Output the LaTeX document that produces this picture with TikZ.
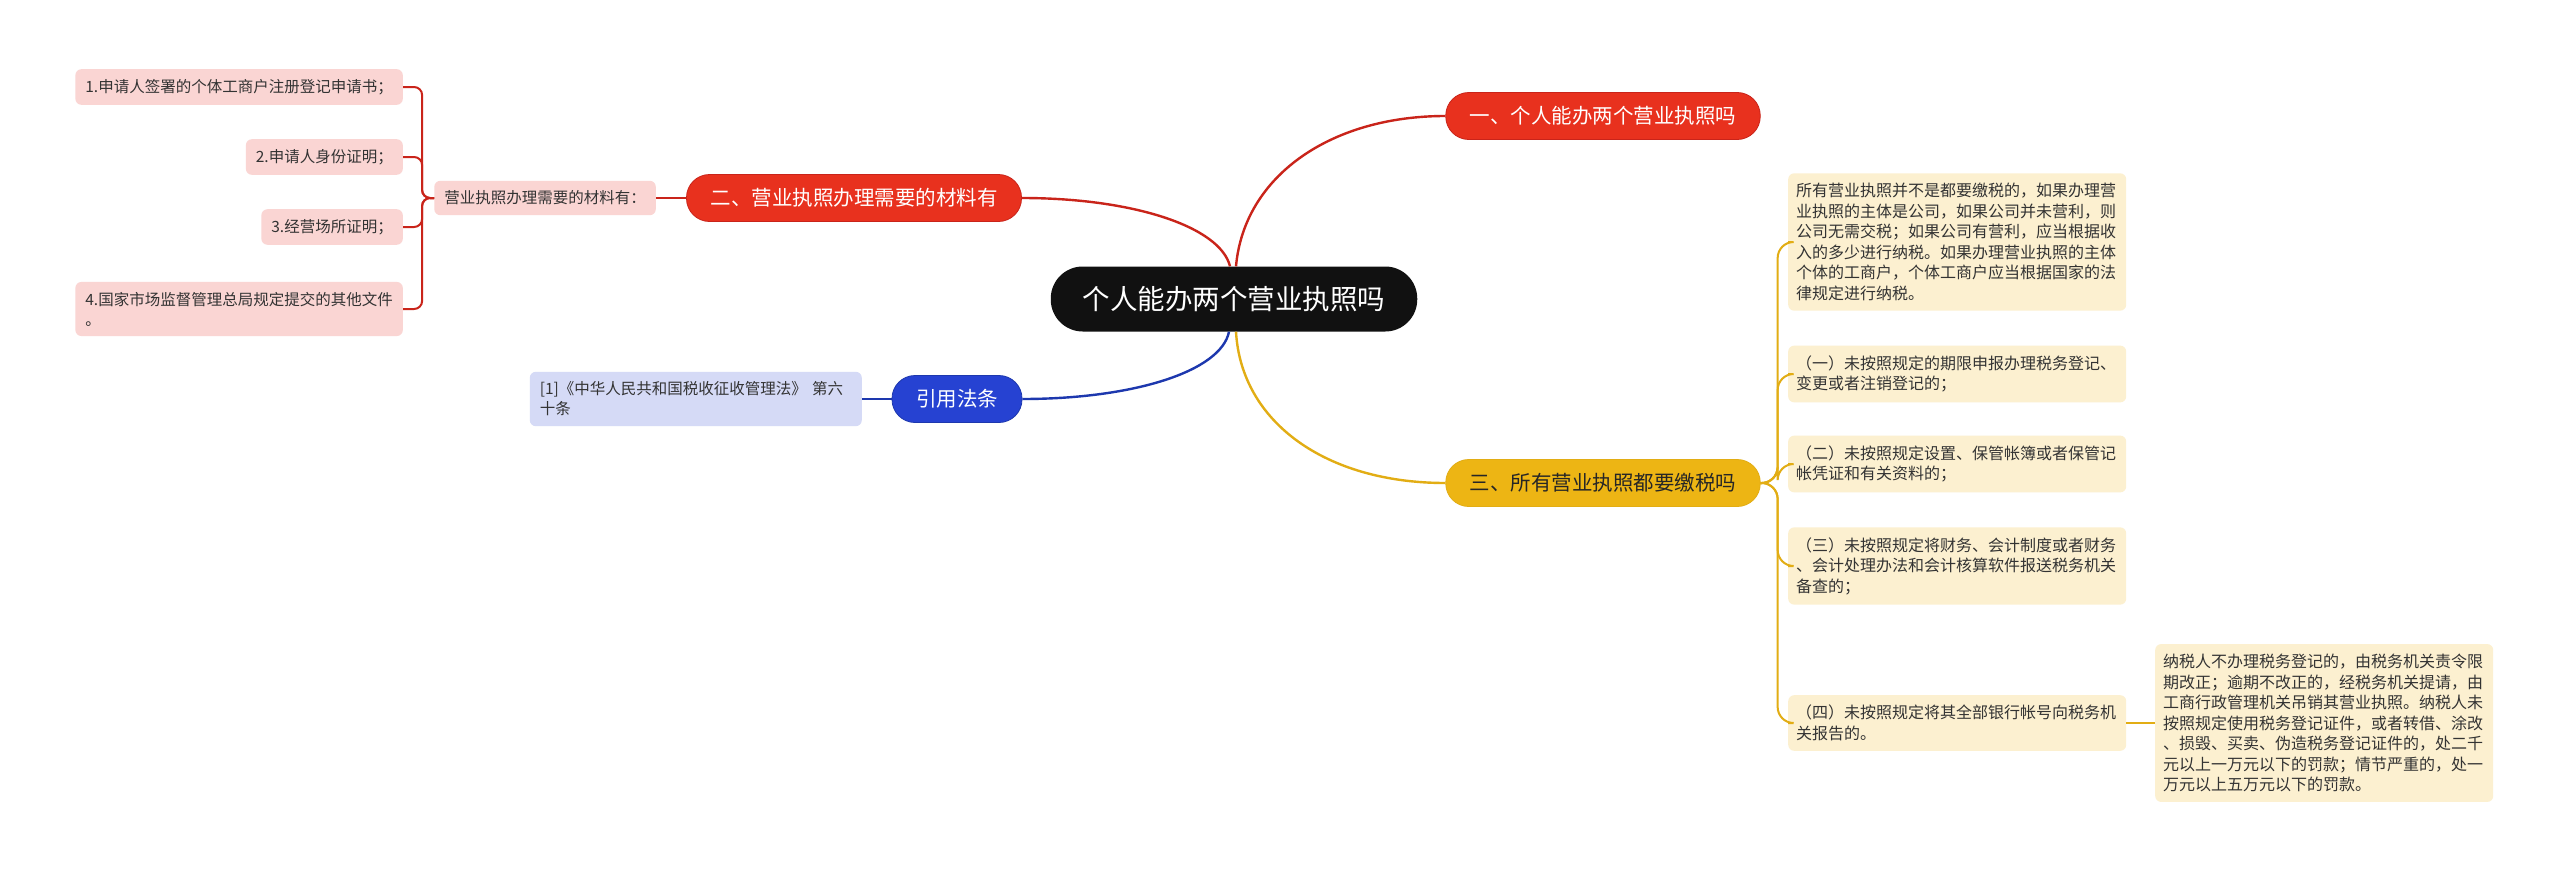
\documentclass[tikz,border=0pt]{standalone}
\usepackage{fontspec}
\setmainfont{Noto Sans CJK SC}
\definecolor{cblack}{HTML}{111111}
\definecolor{redm}{HTML}{E8311E}
\definecolor{redl}{HTML}{C9241A}
\definecolor{pinkf}{HTML}{FAD5D3}
\definecolor{bluem}{HTML}{2642D2}
\definecolor{bluel}{HTML}{1D38AE}
\definecolor{bluef}{HTML}{D5DAF6}
\definecolor{yelm}{HTML}{EDB514}
\definecolor{yell}{HTML}{E2AD14}
\definecolor{yelf}{HTML}{FCF0D0}
\definecolor{txt}{HTML}{333333}
\tikzset{
  leafbase/.style={font=\fontsize{15.5}{20}\selectfont, inner xsep=10pt, inner ysep=10pt, rounded corners=6pt, align=left, text=txt},
  pinkleaf/.style={leafbase, fill=pinkf},
  blueleaf/.style={leafbase, fill=bluef},
  yleaf/.style={leafbase, fill=yelf, font=\fontsize{16}{20.5}\selectfont, text width=322pt, inner xsep=8pt},
  mainbox/.style={font=\fontsize{20.5}{24}\selectfont, inner xsep=24pt, minimum height=47pt, rounded corners=23pt},
  redbox/.style={mainbox, fill=redm, draw=redl, line width=0.8pt, text=white},
  bluebox/.style={mainbox, fill=bluem, draw=bluel, line width=0.8pt, text=white},
  yelbox/.style={mainbox, fill=yelm, draw=yell, line width=0.8pt, text=black!85},
  centerbox/.style={font=\fontsize{27.5}{32}\selectfont, inner xsep=32pt, minimum height=65pt, rounded corners=32pt, fill=cblack, text=white},
  redlink/.style={draw=redl, line width=2.4pt},
  bluelink/.style={draw=bluel, line width=2.4pt},
  yellink/.style={draw=yell, line width=2.4pt},
  redbr/.style={draw=redl, line width=2pt, rounded corners=8pt},
  yelbr/.style={draw=yell, line width=2pt, rounded corners=16pt},
}
\begin{document}
\begin{tikzpicture}[x=1pt,y=-1pt]
\useasboundingbox (0,0) rectangle (2560,870);
\fill[white] (0,0) rectangle (2560,870);

% nodes
\node[centerbox] (c) at (1234,299) {个人能办两个营业执照吗};
\node[redbox] (m1) at (1603,116) {一、个人能办两个营业执照吗};
\node[redbox] (m2) at (854,198) {二、营业执照办理需要的材料有};
\node[bluebox] (m3) at (957,399) {引用法条};
\node[yelbox] (m4) at (1603,483) {三、所有营业执照都要缴税吗};

\node[pinkleaf, anchor=east] (s) at (656,198) {营业执照办理需要的材料有：};
\node[pinkleaf, anchor=east] (l1) at (403,87) {1.申请人签署的个体工商户注册登记申请书；};
\node[pinkleaf, anchor=east] (l2) at (403,157) {2.申请人身份证明；};
\node[pinkleaf, anchor=east] (l3) at (403,227) {3.经营场所证明；};
\node[pinkleaf, anchor=east] (l4) at (403,309) {4.国家市场监督管理总局规定提交的其他文件\\。};

\node[blueleaf, anchor=east, text width=312pt] (b1) at (862,399) {[1]《中华人民共和国税收征收管理法》 第六\\十条};

\node[yleaf, anchor=west] (r1) at (1788,242) {所有营业执照并不是都要缴税的，如果办理营\\业执照的主体是公司，如果公司并未营利，则\\公司无需交税；如果公司有营利，应当根据收\\入的多少进行纳税。如果办理营业执照的主体\\个体的工商户，个体工商户应当根据国家的法\\律规定进行纳税。};
\node[yleaf, anchor=west] (r2) at (1788,374) {（一）未按照规定的期限申报办理税务登记、\\变更或者注销登记的；};
\node[yleaf, anchor=west] (r3) at (1788,464) {（二）未按照规定设置、保管帐簿或者保管记\\帐凭证和有关资料的；};
\node[yleaf, anchor=west] (r4) at (1788,566) {（三）未按照规定将财务、会计制度或者财务\\、会计处理办法和会计核算软件报送税务机关\\备查的；};
\node[yleaf, anchor=west] (r5) at (1788,723) {（四）未按照规定将其全部银行帐号向税务机\\关报告的。};
\node[yleaf, anchor=west] (r6) at (2155,723) {纳税人不办理税务登记的，由税务机关责令限\\期改正；逾期不改正的，经税务机关提请，由\\工商行政管理机关吊销其营业执照。纳税人未\\按照规定使用税务登记证件，或者转借、涂改\\、损毁、买卖、伪造税务登记证件的，处二千\\元以上一万元以下的罚款；情节严重的，处一\\万元以上五万元以下的罚款。};

% connectors from the centre
\path[redlink] ([xshift=2pt]c.north) .. controls +(8,-90) and +(-115,0) .. (m1.west);
\path[redlink] ([xshift=-4pt]c.north) .. controls +(-10,-40) and +(110,0) .. (m2.east);
\path[bluelink] ([xshift=-5pt]c.south) .. controls +(-8,40) and +(110,0) .. (m3.east);
\path[yellink] ([xshift=2pt]c.south) .. controls +(5,90) and +(-120,0) .. (m4.west);

% left branch
\draw[redlink] (m2.west) -- (s.east);
\foreach \n in {l1,l2,l3,l4}{
  \draw[redbr] (s.west) -- ++(-12,0) |- (\n.east);
}
\draw[bluelink, line width=2pt] (m3.west) -- (b1.east);

% right branch
\foreach \n in {r1,r2,r3,r4,r5}{
  \draw[yelbr] (m4.east) -- ++(17,0) |- (\n.west);
}
\draw[yell, line width=2pt] (r5.east) -- (r6.west);
\end{tikzpicture}
\end{document}
